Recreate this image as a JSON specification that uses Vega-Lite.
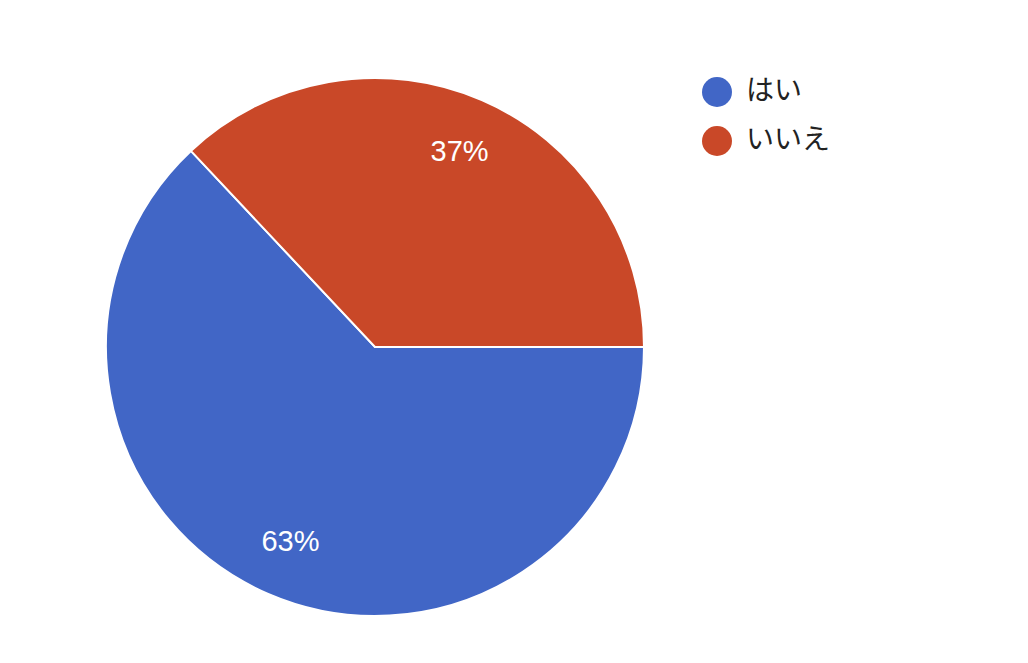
{
  "$schema": "https://vega.github.io/schema/vega-lite/v6.json",
  "width": 750,
  "height": 632,
  "autosize": "none",
  "padding": {"top": 31, "left": 0, "right": 278, "bottom": 0},
  "background": "white",
  "data": {
    "values": [
      {"answer": "はい", "share": 63, "order": 1},
      {"answer": "いいえ", "share": 37, "order": 2}
    ]
  },
  "transform": [
    {"joinaggregate": [{"op": "sum", "field": "share", "as": "total"}]},
    {"calculate": "format(datum.share / datum.total, '.0%')", "as": "pct"}
  ],
  "encoding": {
    "theta": {
      "field": "share",
      "type": "quantitative",
      "stack": true,
      "scale": {"range": [1.5708, 7.854]}
    },
    "order": {"field": "order"},
    "color": {
      "field": "answer",
      "type": "nominal",
      "sort": ["はい", "いいえ"],
      "scale": {"domain": ["はい", "いいえ"], "range": ["#4166c6", "#c94828"]},
      "legend": {
        "title": null,
        "orient": "none",
        "legendX": 702,
        "legendY": 46,
        "symbolType": "circle",
        "symbolSize": 900,
        "symbolStrokeWidth": 0,
        "labelFont": "Noto Sans CJK JP",
        "labelFontSize": 28,
        "labelColor": "#222222",
        "labelOffset": 14,
        "rowPadding": 19,
        "labelLimit": 300
      }
    }
  },
  "layer": [
    {
      "mark": {"type": "arc", "outerRadius": 269, "stroke": "white", "strokeWidth": 2}
    },
    {
      "mark": {
        "type": "text",
        "radius": 213,
        "font": "Liberation Sans",
        "fontSize": 29,
        "fill": "white"
      },
      "encoding": {"text": {"field": "pct"}, "color": {"value": "white"}}
    }
  ],
  "config": {"view": {"stroke": null}}
}
